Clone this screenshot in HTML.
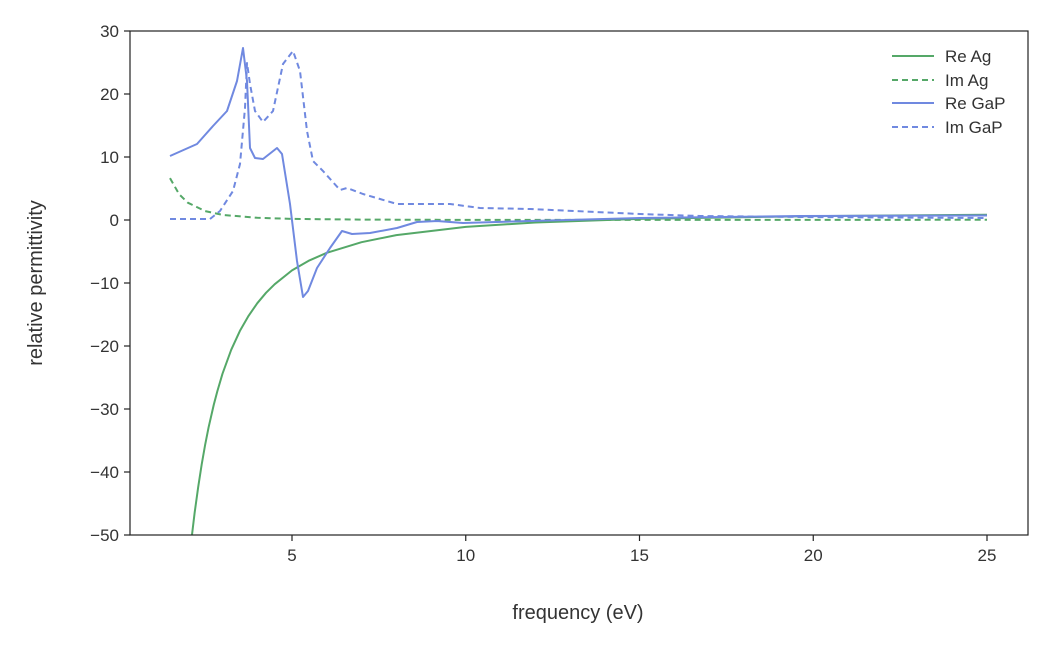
<!DOCTYPE html>
<html><head><meta charset="utf-8"><style>
body{margin:0;background:#fff}
svg{display:block}
text{font-family:"Liberation Sans",sans-serif;fill:#333;font-weight:300}
</style></head><body>
<svg width="1050" height="648" viewBox="0 0 1050 648" xmlns="http://www.w3.org/2000/svg">
<rect width="1050" height="648" fill="#fff"/>
<defs><clipPath id="c"><rect x="130" y="31" width="898" height="504"/></clipPath></defs>
<g clip-path="url(#c)" fill="none" stroke-width="2" stroke-linejoin="round">
<path stroke="#55a868" d="M191.9,535.6 L194.7,512.3 L198.2,487 L201.7,464.4 L205.1,445 L208.6,427.3 L213.8,404.6 L217.3,391.4 L222.5,373.7 L231.2,349.8 L239.9,330.9 L248.6,315.8 L257.3,303.2 L266,292.8 L274.6,284.3 L292,270.4 L309.4,260.4 L326.8,252.8 L361.5,242.2 L396.3,235.1 L465.8,226.9 L535.3,222.5 L639.5,218.9 L813.3,216.1 L987,214.8"/>
<path stroke="#55a868" stroke-dasharray="6,4" d="M170,178.1 L179.1,194.2 L187.8,202.7 L205.1,211.1 L222.5,214.9 L257.3,217.8 L292,218.9 L361.5,219.6 L465.8,219.9 L987,219.8"/>
<path stroke="#7089e0" d="M170,156 L197,144 L213,126 L227,111 L237,81 L243,48 L247,81 L250,148 L255,158 L263,159 L277,148 L282,154 L290,204 L297,261 L303,297 L308,291 L317,268 L330,248 L342,231 L352,234 L370,233 L397,228 L417,222 L437,221 L463,223 L530,221 L640,218 L800,216 L987,215.5"/>
<path stroke="#7089e0" stroke-dasharray="6,4" d="M170,219 L210,219 L220,211 L233,191 L240,164 L245,108 L247,63 L250,84 L255,111 L263,122 L273,111 L283,64 L293,51 L300,71 L307,131 L313,161 L323,171 L340,190 L347,188 L363,194 L397,204 L450,204 L480,208 L530,209 L640,214 L700,216 L800,217 L987,218"/>
</g>
<rect x="130" y="31" width="898" height="504" fill="none" stroke="#222" stroke-width="1.2"/>
<g stroke="#222" stroke-width="1.2">
<line x1="124" x2="130" y1="31" y2="31"/><line x1="124" x2="130" y1="94" y2="94"/><line x1="124" x2="130" y1="157" y2="157"/><line x1="124" x2="130" y1="220" y2="220"/><line x1="124" x2="130" y1="283" y2="283"/><line x1="124" x2="130" y1="346" y2="346"/><line x1="124" x2="130" y1="409" y2="409"/><line x1="124" x2="130" y1="472" y2="472"/><line x1="124" x2="130" y1="535" y2="535"/>
<line x1="292" x2="292" y1="535" y2="541"/><line x1="465.75" x2="465.75" y1="535" y2="541"/><line x1="639.5" x2="639.5" y1="535" y2="541"/><line x1="813.25" x2="813.25" y1="535" y2="541"/><line x1="987" x2="987" y1="535" y2="541"/>
</g>
<g font-size="17" text-anchor="end">
<text x="119" y="37">30</text><text x="119" y="100">20</text><text x="119" y="163">10</text><text x="119" y="226">0</text><text x="119" y="289">−10</text><text x="119" y="352">−20</text><text x="119" y="415">−30</text><text x="119" y="478">−40</text><text x="119" y="541">−50</text>
</g>
<g font-size="17" text-anchor="middle">
<text x="292" y="561">5</text><text x="465.75" y="561">10</text><text x="639.5" y="561">15</text><text x="813.25" y="561">20</text><text x="987" y="561">25</text>
<text x="578" y="619" font-size="20">frequency (eV)</text>
<text transform="translate(42,283) rotate(-90)" font-size="20">relative permittivity</text>
</g>
<g stroke-width="2">
<line x1="892" x2="934" y1="56" y2="56" stroke="#55a868"/>
<line x1="892" x2="934" y1="80" y2="80" stroke="#55a868" stroke-dasharray="6,4"/>
<line x1="892" x2="934" y1="103" y2="103" stroke="#7089e0"/>
<line x1="892" x2="934" y1="127" y2="127" stroke="#7089e0" stroke-dasharray="6,4"/>
</g>
<g font-size="17">
<text x="945" y="62">Re Ag</text><text x="945" y="86">Im Ag</text><text x="945" y="109">Re GaP</text><text x="945" y="133">Im GaP</text>
</g>
</svg>
</body></html>
